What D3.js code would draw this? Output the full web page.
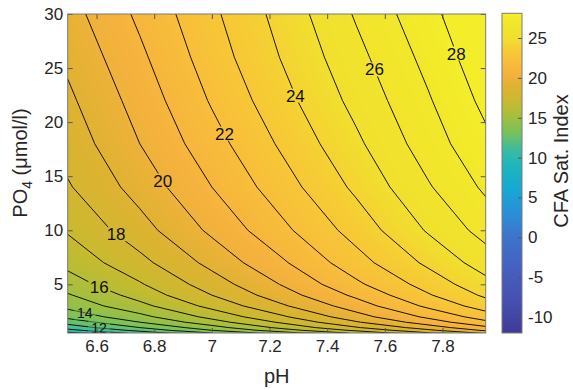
<!DOCTYPE html>
<html>
<head>
<meta charset="utf-8">
<script src="https://cdn.jsdelivr.net/npm/d3@7"></script>
<style>
  body { margin: 0; background: #fff; }
  svg { font-family: "Liberation Sans", Arial, Helvetica, sans-serif; }
</style>
</head>
<body>
<div id="chart"></div>
<script>
// grid: columns = pH, rows = PO4 (umol/l), values = CFA saturation index
const phCols = [6.5, 6.75, 7.0, 7.25, 7.5, 7.75, 8.0];
const po4Rows = [0.5, 0.75, 1, 1.5, 2, 3, 4, 5, 7, 10, 14, 18, 22, 26, 30];
const satIndex = [
  [9.7, 11.4, 13.0, 14.6, 16.2, 17.9, 19.5],
  [10.7, 12.3, 14.0, 15.6, 17.2, 18.8, 20.5],
  [11.4, 13.0, 14.6, 16.3, 17.9, 19.5, 21.1],
  [12.4, 14.0, 15.6, 17.2, 18.9, 20.5, 22.1],
  [13.3, 14.7, 16.3, 17.9, 19.6, 21.2, 22.8],
  [14.3, 15.7, 17.3, 18.9, 20.5, 22.2, 23.8],
  [14.9, 16.4, 18.0, 19.6, 21.2, 22.9, 24.5],
  [15.5, 16.9, 18.5, 20.1, 21.8, 23.4, 25.0],
  [16.3, 17.7, 19.3, 20.9, 22.6, 24.2, 25.8],
  [17.1, 18.6, 20.2, 21.8, 23.4, 25.1, 26.7],
  [17.9, 19.4, 21.0, 22.6, 24.2, 25.9, 27.5],
  [18.4, 20.0, 21.6, 23.2, 24.8, 26.5, 28.1],
  [18.8, 20.4, 22.1, 23.7, 25.3, 26.9, 28.6],
  [19.2, 20.8, 22.5, 24.1, 25.7, 27.3, 29.0],
  [19.6, 21.2, 22.8, 24.4, 26.1, 27.7, 29.3]
];
const levels = [9, 10, 11, 12, 13, 14, 15, 16, 17, 18, 19, 20, 21, 22, 23, 24, 25, 26, 27, 28, 29];
const labelLevels = [12, 14, 16, 18, 20, 22, 24, 26, 28];
const xTicks = [6.6, 6.8, 7, 7.2, 7.4, 7.6, 7.8];
const yTicks = [5, 10, 15, 20, 25, 30];
const cbTicks = [-10, -5, 0, 5, 10, 15, 20, 25];

// parula-like colormap as seen on the colorbar
const cmapVals = [-12, -8, -4, 0, 3, 6, 9, 11, 13, 15, 17, 19, 20.5, 22, 23.5, 25, 27, 28.1];
const cmapColors = ['#3e3a96', '#4650b0', '#465fbe', '#3d74cb', '#2a8fd6', '#16a8d4', '#1fb5bb', '#3cbba0',
  '#74c160', '#a0c040', '#c8ba2e', '#e0b232', '#f5b23d', '#f8be3a', '#f6cc34', '#f1e02e', '#f2e82a', '#f4ee2a'];

const width = 573, height = 390;
const plot = { left: 67.7, right: 485.7, top: 14, bottom: 333 };
const cb = { left: 502, right: 522, top: 13.3, bottom: 333 };

const svg = d3.select('#chart').append('svg')
  .attr('width', width)
  .attr('height', height);

const x = d3.scaleLinear().domain([6.5, 7.95]).range([plot.left, plot.right]);
const y = d3.scaleLinear().domain([0.5, 30]).range([plot.bottom, plot.top]);
const cy = d3.scaleLinear().domain([-12, 28.1]).range([cb.bottom, cb.top]);
const color = d3.scaleLinear().domain(cmapVals).range(cmapColors).clamp(true);

// grid index <-> data (rows are not evenly spaced)
const colIdx = d3.range(phCols.length);
const rowIdx = d3.range(po4Rows.length);
const phToCol = d3.scaleLinear().domain(phCols).range(colIdx).clamp(true);
const po4ToRow = d3.scaleLinear().domain(po4Rows).range(rowIdx).clamp(true);
const colToPh = d3.scaleLinear().domain(colIdx).range(phCols);
const rowToPo4 = d3.scaleLinear().domain(rowIdx).range(po4Rows);

function valueAt(ph, p) {
  const fc = phToCol(ph), fr = po4ToRow(p);
  const c0 = Math.min(Math.floor(fc), phCols.length - 2);
  const r0 = Math.min(Math.floor(fr), po4Rows.length - 2);
  const tc = fc - c0, tr = fr - r0;
  const a = satIndex[r0][c0] * (1 - tc) + satIndex[r0][c0 + 1] * tc;
  const b = satIndex[r0 + 1][c0] * (1 - tc) + satIndex[r0 + 1][c0 + 1] * tc;
  return a * (1 - tr) + b * tr;
}

const defs = svg.append('defs');
defs.append('clipPath').attr('id', 'plotclip')
  .append('rect')
  .attr('x', plot.left).attr('y', plot.top)
  .attr('width', plot.right - plot.left).attr('height', plot.bottom - plot.top);

// smooth shaded background
const pw = Math.round(plot.right - plot.left), phgt = Math.round(plot.bottom - plot.top);
const canvas = document.createElement('canvas');
canvas.width = pw; canvas.height = phgt;
const ctx = canvas.getContext('2d');
const img = ctx.createImageData(pw, phgt);
for (let j = 0; j < phgt; j++) {
  const p = y.invert(plot.top + (j + 0.5) * (plot.bottom - plot.top) / phgt);
  for (let i = 0; i < pw; i++) {
    const ph = x.invert(plot.left + (i + 0.5) * (plot.right - plot.left) / pw);
    const c = d3.rgb(color(valueAt(ph, p)));
    const k = (j * pw + i) * 4;
    img.data[k] = c.r; img.data[k + 1] = c.g; img.data[k + 2] = c.b; img.data[k + 3] = 255;
  }
}
ctx.putImageData(img, 0, 0);

svg.append('image')
  .attr('x', plot.left).attr('y', plot.top)
  .attr('width', plot.right - plot.left).attr('height', plot.bottom - plot.top)
  .attr('preserveAspectRatio', 'none')
  .attr('href', canvas.toDataURL());

// contour lines
const contours = d3.contours()
  .size([phCols.length, po4Rows.length])
  .thresholds(levels)(satIndex.flat());

const toPixel = (px, py) => [x(colToPh(px - 0.5)), y(rowToPo4(py - 0.5))];
const path = d3.geoPath(d3.geoTransform({
  point(px, py) { const q = toPixel(px, py); this.stream.point(q[0], q[1]); }
}));

// label positions along the lines (nearest point to where the labels sit)
const labelTargets = { 12: [99, 329], 14: [85, 312], 16: [100, 285], 18: [117, 233], 20: [162, 181],
  22: [218, 137], 24: [292, 97], 26: [373, 70], 28: [460, 52] };

function nearestOnLevel(level, t) {
  const c = contours.find(d => d.value === level);
  let best = null, bestD = Infinity;
  c.coordinates.forEach(poly => poly.forEach(ring => {
    const pts = ring.map(p => toPixel(p[0], p[1]));
    for (let k = 1; k < pts.length; k++) {
      const [x1, y1] = pts[k - 1], [x2, y2] = pts[k];
      const dx = x2 - x1, dy = y2 - y1, len = dx * dx + dy * dy;
      let s = len ? ((t[0] - x1) * dx + (t[1] - y1) * dy) / len : 0;
      s = Math.max(0, Math.min(1, s));
      const qx = x1 + s * dx, qy = y1 + s * dy;
      const d = (qx - t[0]) ** 2 + (qy - t[1]) ** 2;
      if (d < bestD) { bestD = d; best = [qx, qy]; }
    }
  }));
  return best;
}

const labels = labelLevels.map(l => ({ level: l, pos: nearestOnLevel(l, labelTargets[l]) }));

const mask = defs.append('mask').attr('id', 'lblmask')
  .attr('maskUnits', 'userSpaceOnUse')
  .attr('x', 0).attr('y', 0).attr('width', width).attr('height', height);
mask.append('rect').attr('x', 0).attr('y', 0).attr('width', width).attr('height', height).attr('fill', '#fff');
mask.selectAll('.hole')
  .data(labels)
  .enter()
  .append('rect')
  .attr('x', d => d.pos[0] - 11)
  .attr('y', d => d.pos[1] - 7)
  .attr('width', 22)
  .attr('height', 14)
  .attr('fill', d => d.level <= 14 ? '#888' : '#000');

svg.append('g')
  .attr('clip-path', 'url(#plotclip)')
  .append('g')
  .attr('mask', 'url(#lblmask)')
  .selectAll('path')
  .data(contours)
  .enter()
  .append('path')
  .attr('d', path)
  .attr('fill', 'none')
  .attr('stroke', '#000')
  .attr('stroke-width', 0.9);

svg.append('g')
  .selectAll('text')
  .data(labels)
  .enter()
  .append('text')
  .attr('x', d => d.pos[0])
  .attr('y', d => d.pos[1])
  .attr('dy', '0.36em')
  .attr('text-anchor', 'middle')
  .attr('font-size', d => d.level <= 14 ? 14 : 17)
  .attr('fill', '#111')
  .text(d => d.level);

// axes
const fmt = d => String(d);
function styleAxis(g) {
  g.select('.domain').remove();
  g.selectAll('.tick line').attr('stroke', '#555');
  g.selectAll('.tick text').attr('fill', '#262626').attr('font-size', 17);
}

svg.append('g')
  .attr('transform', `translate(0,${plot.bottom})`)
  .call(d3.axisBottom(x).tickValues(xTicks).tickSize(-5).tickPadding(7).tickFormat(fmt))
  .call(styleAxis);

svg.append('g')
  .attr('transform', `translate(0,${plot.top})`)
  .call(d3.axisTop(x).tickValues(xTicks).tickSize(-5).tickFormat(''))
  .call(styleAxis);

svg.append('g')
  .attr('transform', `translate(${plot.left},0)`)
  .call(d3.axisLeft(y).tickValues(yTicks).tickSize(-5).tickPadding(4.5).tickFormat(fmt))
  .call(styleAxis);

svg.append('g')
  .attr('transform', `translate(${plot.right},0)`)
  .call(d3.axisRight(y).tickValues(yTicks).tickSize(-5).tickFormat(''))
  .call(styleAxis);

svg.append('rect')
  .attr('x', plot.left).attr('y', plot.top)
  .attr('width', plot.right - plot.left).attr('height', plot.bottom - plot.top)
  .attr('fill', 'none')
  .attr('stroke', '#7a7a7a')
  .attr('stroke-width', 1);

// axis titles
svg.append('text')
  .attr('x', (plot.left + plot.right) / 2)
  .attr('y', 383)
  .attr('text-anchor', 'middle')
  .attr('font-size', 20)
  .attr('fill', '#262626')
  .text('pH');

const ylab = svg.append('text')
  .attr('transform', 'translate(27,163) rotate(-90)')
  .attr('text-anchor', 'middle')
  .attr('font-size', 20)
  .attr('fill', '#262626');
ylab.append('tspan').text('PO');
ylab.append('tspan').attr('font-size', 14).attr('dy', 5).text('4');
ylab.append('tspan').attr('dy', -5).text(' (μmol/l)');

// colorbar
const grad = defs.append('linearGradient')
  .attr('id', 'cbgrad')
  .attr('x1', 0).attr('y1', 1).attr('x2', 0).attr('y2', 0);
grad.selectAll('stop')
  .data(cmapVals)
  .enter()
  .append('stop')
  .attr('offset', d => (d - cy.domain()[0]) / (cy.domain()[1] - cy.domain()[0]))
  .attr('stop-color', d => color(d));

svg.append('rect')
  .attr('x', cb.left).attr('y', cb.top)
  .attr('width', cb.right - cb.left).attr('height', cb.bottom - cb.top)
  .attr('fill', 'url(#cbgrad)');

svg.append('g')
  .attr('transform', `translate(${cb.right},0)`)
  .call(d3.axisRight(cy).tickValues(cbTicks).tickSize(-4).tickPadding(6).tickFormat(fmt))
  .call(styleAxis);

svg.append('rect')
  .attr('x', cb.left).attr('y', cb.top)
  .attr('width', cb.right - cb.left).attr('height', cb.bottom - cb.top)
  .attr('fill', 'none')
  .attr('stroke', '#7a7a7a')
  .attr('stroke-width', 1);

svg.append('text')
  .attr('transform', 'translate(568,161) rotate(-90)')
  .attr('text-anchor', 'middle')
  .attr('font-size', 20)
  .attr('fill', '#262626')
  .text('CFA Sat. Index');
</script>
</body>
</html>
